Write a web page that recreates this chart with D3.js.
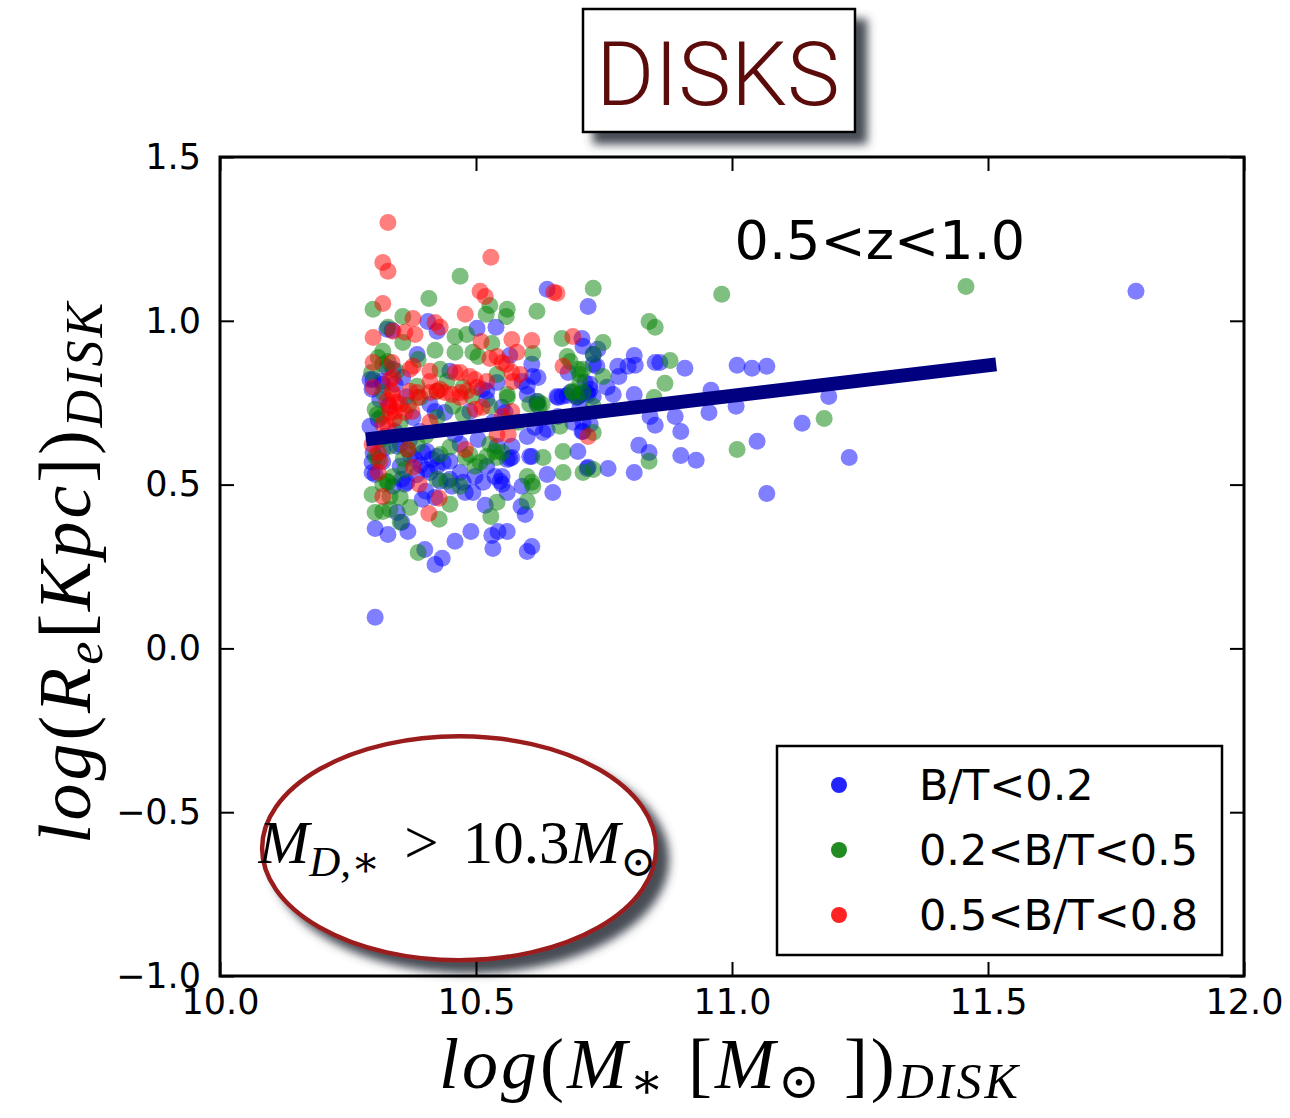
<!DOCTYPE html>
<html>
<head>
<meta charset="utf-8">
<script src="https://cdn.jsdelivr.net/npm/d3@7"></script>
<style>
  body { margin: 0; background: #fff; }
  .tick text { font-family: "DejaVu Sans", sans-serif; font-size: 35px; fill: #000; }
  .tick line { stroke: #000; stroke-width: 2; }
  .math { font-family: "Liberation Serif", "DejaVu Serif", serif; fill: #000; }
</style>
</head>
<body>
<div id="chart"></div>
<script>
// log stellar mass vs log effective radius, disks at 0.5<z<1.0
const xTicks = [10.0, 10.5, 11.0, 11.5, 12.0];
const yTicks = [-1.0, -0.5, 0.0, 0.5, 1.0, 1.5];
const classes = ["B/T<0.2", "0.2<B/T<0.5", "0.5<B/T<0.8"];

// [log M*, log Re] for B/T<0.2
const lowBT = [
  [10.639,1.096],[10.719,1.044],[10.406,0.998],[10.424,0.968],[10.502,0.977],[10.539,0.980],[10.336,0.971],
  [10.566,0.894],[10.609,0.867],[10.611,0.830],[10.621,0.827],[10.707,0.946],[10.709,0.922],[10.729,0.897],
  [10.738,0.913],[10.736,0.861],[10.326,0.858],[10.299,0.821],[10.316,0.815],[10.357,0.827],[10.385,0.897],
  [10.449,0.846],[10.541,0.812],[10.590,0.815],[10.600,0.775],[10.512,0.791],[10.521,0.760],[10.342,0.806],
  [10.658,0.769],[10.684,0.781],[10.699,0.769],[10.717,0.781],[10.729,0.769],[10.850,0.873],[10.859,0.873],
  [10.809,0.894],[10.811,0.864],[10.797,0.861],[10.777,0.861],[10.779,0.830],[10.908,0.855],[11.010,0.864],
  [11.039,0.855],[11.068,0.861],[10.756,0.797],[10.768,0.775],[10.809,0.775],[10.959,0.788],[11.189,0.769],
  [10.955,0.720],[11.008,0.739],[10.889,0.708],[10.840,0.708],[10.850,0.681],[10.900,0.662],[11.137,0.687],
  [11.049,0.632],[11.229,0.583],[11.068,0.473],[10.818,0.620],[10.838,0.598],[10.900,0.589],[10.930,0.574],
  [10.809,0.537],[10.758,0.549],[10.719,0.553],[10.699,0.601],[10.709,0.662],[10.729,0.867],[10.680,0.842],
  [10.723,0.806],[10.713,0.812],[10.719,0.775],[10.697,0.766],[10.668,0.769],[10.703,0.736],[10.689,0.690],
  [10.303,0.095],[10.400,0.302],[10.420,0.256],[10.434,0.275],[10.459,0.327],[10.490,0.357],[10.533,0.305],
  [10.531,0.345],[10.543,0.357],[10.561,0.357],[10.600,0.296],[10.609,0.311],[10.303,0.366],[10.328,0.348],
  [10.355,0.385],[10.367,0.357],[10.395,0.455],[10.365,0.507],[10.420,0.461],[10.479,0.476],[10.494,0.476],
  [10.514,0.507],[10.518,0.437],[10.561,0.476],[10.588,0.433],[10.596,0.409],[10.590,0.495],[10.551,0.501],
  [10.551,0.525],[10.570,0.583],[10.609,0.586],[10.639,0.531],[10.650,0.476],[10.717,0.549],[10.709,0.690],
  [10.723,0.684],[10.678,0.772],[10.703,0.775],[10.723,0.791],[10.660,0.766],[10.619,0.745],[10.631,0.659],
  [10.639,0.668],[10.605,0.586],[10.566,0.580],[10.561,0.577],[10.537,0.525],[10.547,0.510],[10.498,0.525],
  [10.521,0.556],[10.469,0.537],[10.475,0.507],[10.449,0.516],[10.453,0.495],[10.414,0.577],[10.424,0.556],
  [10.436,0.568],[10.449,0.571],[10.404,0.546],[10.410,0.537],[10.396,0.598],[10.404,0.601],[10.381,0.577],
  [10.355,0.516],[10.361,0.501],[10.338,0.495],[10.303,0.531],[10.299,0.598],[10.318,0.607],[10.352,0.623],
  [10.469,0.623],[10.541,0.617],[10.570,0.617],[10.424,0.586],[10.318,0.806],[10.309,0.699],[10.377,0.705],
  [10.410,0.745],[10.420,0.723],[10.439,0.720],[10.488,0.723],[10.521,0.785],[10.551,0.736],[10.557,0.720],
  [10.533,0.690],[10.600,0.800],[10.615,0.675],[10.600,0.647],[10.660,0.708],[10.707,0.662],[10.619,0.754],
  [11.789,1.090],[10.293,0.821],[10.297,0.791],[10.293,0.678],[10.297,0.568],[10.297,0.537],[10.326,0.974],
  [10.338,0.852],[10.346,0.617],[10.352,0.556],[10.346,0.415],[10.322,0.647],[10.342,0.662],[10.391,0.662],
  [10.371,0.638],[10.459,0.653],[10.504,0.638],[10.312,0.760],[10.330,0.742],[10.364,0.768],[10.392,0.560],
  [10.384,0.530],[10.430,0.510],[10.372,0.590],[10.318,0.570],[10.402,0.480]
];

// [log M*, log Re] for 0.2<B/T<0.5
const midBT = [
  [10.469,1.136],[10.729,1.099],[10.408,1.068],[10.299,1.035],[10.527,1.047],[10.520,1.020],[10.561,1.035],
  [10.559,1.013],[10.619,1.029],[10.357,1.013],[10.328,0.980],[10.357,0.934],[10.420,0.910],[10.459,0.952],
  [10.482,0.958],[10.459,0.904],[10.531,0.931],[10.494,0.904],[10.504,0.891],[10.611,0.900],[10.668,0.946],
  [10.678,0.891],[10.684,0.876],[10.318,0.907],[10.309,0.888],[10.318,0.867],[10.387,0.882],[10.430,0.852],
  [10.443,0.815],[10.541,0.836],[10.561,0.775],[10.475,0.797],[10.492,0.769],[10.424,0.785],[10.385,0.800],
  [10.318,0.781],[10.709,0.852],[10.838,0.998],[10.850,0.980],[10.748,0.934],[10.879,0.879],[10.869,0.809],
  [10.848,0.766],[11.180,0.702],[11.010,0.607],[10.838,0.571],[10.729,0.546],[10.709,0.537],[10.670,0.537],
  [10.670,0.601],[10.729,0.659],[10.729,0.897],[10.699,0.852],[10.703,0.836],[10.703,0.812],[10.748,0.830],
  [10.689,0.781],[10.729,0.739],[10.664,0.678],[10.980,1.081],[10.387,0.293],[10.352,0.385],[10.303,0.415],
  [10.318,0.418],[10.332,0.424],[10.428,0.394],[10.371,0.430],[10.297,0.470],[10.332,0.464],[10.352,0.461],
  [10.328,0.507],[10.449,0.440],[10.541,0.446],[10.529,0.403],[10.600,0.449],[10.600,0.525],[10.609,0.507],
  [10.611,0.495],[10.631,0.583],[10.688,0.785],[10.561,0.766],[10.605,0.745],[10.623,0.739],[10.498,0.556],
  [10.508,0.568],[10.469,0.495],[10.424,0.516],[10.443,0.510],[10.361,0.546],[10.338,0.525],[10.318,0.501],
  [10.326,0.510],[10.303,0.586],[10.367,0.607],[10.332,0.617],[10.385,0.623],[10.449,0.614],[10.479,0.583],
  [10.488,0.592],[10.527,0.623],[10.537,0.601],[10.551,0.598],[10.430,0.592],[10.521,0.586],[10.541,0.583],
  [10.303,0.730],[10.316,0.708],[10.352,0.690],[10.391,0.766],[10.424,0.705],[10.455,0.739],[10.475,0.714],
  [10.527,0.739],[10.561,0.693],[10.582,0.690],[10.621,0.754],[10.629,0.745],[10.697,0.769],[10.709,0.781],
  [11.457,1.105],[10.328,0.876],[10.307,0.714],[10.309,0.577],[10.313,0.638],[10.345,0.846],[10.368,0.742],
  [10.402,0.650],[10.296,0.842],[10.358,0.580]
];

// [log M*, log Re] for 0.5<B/T<0.8
const highBT = [
  [10.328,1.300],[10.318,1.178],[10.328,1.151],[10.529,1.194],[10.508,1.090],[10.518,1.074],[10.652,1.087],
  [10.658,1.084],[10.318,1.053],[10.479,1.020],[10.377,1.007],[10.420,0.995],[10.430,0.980],[10.338,0.968],
  [10.361,0.965],[10.381,0.958],[10.299,0.949],[10.510,0.937],[10.570,0.943],[10.609,0.940],[10.580,0.904],
  [10.527,0.885],[10.541,0.891],[10.551,0.873],[10.559,0.867],[10.689,0.952],[10.670,0.861],[10.299,0.873],
  [10.336,0.873],[10.299,0.797],[10.332,0.821],[10.371,0.852],[10.377,0.861],[10.410,0.846],[10.459,0.842],
  [10.469,0.842],[10.488,0.830],[10.498,0.821],[10.521,0.815],[10.570,0.842],[10.586,0.836],[10.572,0.815],
  [10.469,0.781],[10.482,0.785],[10.430,0.791],[10.410,0.815],[10.371,0.785],[10.385,0.781],[10.336,0.785],
  [10.719,0.647],[10.408,0.412],[10.318,0.464],[10.389,0.501],[10.428,0.458],[10.377,0.553],[10.309,0.537],
  [10.313,0.571],[10.367,0.607],[10.479,0.607],[10.338,0.775],[10.332,0.736],[10.342,0.723],[10.361,0.720],
  [10.375,0.723],[10.318,0.684],[10.387,0.766],[10.410,0.781],[10.424,0.785],[10.410,0.690],[10.439,0.781],
  [10.453,0.775],[10.469,0.766],[10.498,0.730],[10.512,0.736],[10.502,0.797],[10.551,0.708],[10.570,0.723],
  [10.541,0.653],[10.563,0.653],[10.338,0.827],[10.346,0.751],[10.332,0.720],[10.328,0.678],[10.309,0.598],
  [10.297,0.623],[10.352,0.745],[10.326,0.756],[10.340,0.700]
];

// linear fit of the sample
const fitLine = [[10.285, 0.638], [11.516, 0.867]];

const seriesColors = ["#0000ff", "#008000", "#ff0000"];
const legendColors = ["#2424ff", "#228b22", "#ff2424"];

const width = 1290, height = 1118;
const margin = {top: 157, right: 46, bottom: 142, left: 220};
const innerW = width - margin.left - margin.right;
const innerH = height - margin.top - margin.bottom;

const svg = d3.select("#chart")
  .append("svg")
  .attr("width", width)
  .attr("height", height)
  .attr("viewBox", `0 0 ${width} ${height}`);

const defs = svg.append("defs");
const shadow = defs.append("filter")
  .attr("id", "shadow")
  .attr("x", "-20%").attr("y", "-20%")
  .attr("width", "150%").attr("height", "150%");
shadow.append("feDropShadow")
  .attr("dx", 11).attr("dy", 11)
  .attr("stdDeviation", 5)
  .attr("flood-color", "#3d434b")
  .attr("flood-opacity", 0.95);

const xScale = d3.scaleLinear().domain([10.0, 12.0]).range([0, innerW]);
const yScale = d3.scaleLinear().domain([-1.0, 1.5]).range([innerH, 0]);

const inner = svg.append("g")
  .attr("transform", `translate(${margin.left},${margin.top})`);

// mass cut annotation
const note = inner.append("g");
note.append("ellipse")
  .attr("cx", xScale(10.467))
  .attr("cy", yScale(-0.61))
  .attr("rx", 197)
  .attr("ry", 112)
  .attr("fill", "#fff")
  .attr("stroke", "#9b1a1a")
  .attr("stroke-width", 4.5)
  .attr("filter", "url(#shadow)");

const noteText = note.append("text")
  .attr("class", "math")
  .attr("x", xScale(10.075))
  .attr("y", yScale(-0.655))
  .attr("font-size", 61);
noteText.append("tspan").attr("font-style", "italic").text("M");
noteText.append("tspan").attr("font-style", "italic").attr("font-size", 43).attr("dy", 13).text("D,∗");
noteText.append("tspan").attr("dy", -13).attr("dx", 24).text(">");
noteText.append("tspan").attr("dx", 24).text("10.3");
noteText.append("tspan").attr("font-style", "italic").text("M");
noteText.append("tspan").attr("font-size", 43).attr("dy", 13).text("⊙");

// scatter
const groups = [lowBT, midBT, highBT];
groups.forEach((pts, i) => {
  inner.append("g")
    .selectAll("circle")
    .data(pts)
    .join("circle")
    .attr("cx", d => xScale(d[0]))
    .attr("cy", d => yScale(d[1]))
    .attr("r", 8.5)
    .attr("fill", seriesColors[i])
    .attr("fill-opacity", 0.5);
});

inner.append("path")
  .datum(fitLine)
  .attr("d", d3.line().x(d => xScale(d[0])).y(d => yScale(d[1])))
  .attr("stroke", "#000080")
  .attr("stroke-width", 14)
  .attr("fill", "none");

// axes, ticks pointing inward on all four sides
const fmt = d3.format(".1f");
inner.append("g")
  .attr("transform", `translate(0,${innerH})`)
  .call(d3.axisBottom(xScale).tickValues(xTicks).tickFormat(fmt).tickSize(-14).tickPadding(13))
  .call(g => g.select(".domain").remove());
inner.append("g")
  .call(d3.axisTop(xScale).tickValues(xTicks).tickFormat("").tickSize(-14))
  .call(g => g.select(".domain").remove());
inner.append("g")
  .call(d3.axisLeft(yScale).tickValues(yTicks).tickFormat(fmt).tickSize(-14).tickPadding(19))
  .call(g => g.select(".domain").remove());
inner.append("g")
  .attr("transform", `translate(${innerW},0)`)
  .call(d3.axisRight(yScale).tickValues(yTicks).tickFormat("").tickSize(-14))
  .call(g => g.select(".domain").remove());

inner.append("rect")
  .attr("width", innerW)
  .attr("height", innerH)
  .attr("fill", "none")
  .attr("stroke", "#000")
  .attr("stroke-width", 3);

// redshift bin label
inner.append("text")
  .attr("x", xScale(11.005))
  .attr("y", yScale(1.19))
  .attr("font-family", "DejaVu Sans, sans-serif")
  .attr("font-size", 54)
  .text("0.5<z<1.0");

// legend
const legend = svg.append("g")
  .attr("transform", "translate(777,746)");
legend.append("rect")
  .attr("width", 445)
  .attr("height", 209)
  .attr("fill", "#fff")
  .attr("stroke", "#000")
  .attr("stroke-width", 2.5);
classes.forEach((c, i) => {
  const row = legend.append("g")
    .attr("transform", `translate(0,${39 + i * 65})`);
  row.append("circle")
    .attr("cx", 62)
    .attr("r", 8)
    .attr("fill", legendColors[i]);
  row.append("text")
    .attr("x", 142)
    .attr("y", 15)
    .attr("font-family", "DejaVu Sans, sans-serif")
    .attr("font-size", 43)
    .text(c);
});

// axis titles
const xTitle = svg.append("text")
  .attr("class", "math")
  .attr("x", 730)
  .attr("y", 1088)
  .attr("text-anchor", "middle")
  .attr("letter-spacing", 3)
  .attr("font-size", 72);
xTitle.append("tspan").attr("font-style", "italic").text("log");
xTitle.append("tspan").text("(");
xTitle.append("tspan").attr("font-style", "italic").text("M");
xTitle.append("tspan").attr("font-size", 50).attr("dy", 10).text("∗");
xTitle.append("tspan").attr("dy", -10).text(" [");
xTitle.append("tspan").attr("font-style", "italic").text("M");
xTitle.append("tspan").attr("font-size", 50).attr("dy", 10).text("⊙");
xTitle.append("tspan").attr("dy", -10).text(" ])");
xTitle.append("tspan").attr("font-style", "italic").attr("font-size", 50).attr("dy", 10).text("DISK");

const yTitle = svg.append("text")
  .attr("class", "math")
  .attr("transform", "translate(90,572) rotate(-90)")
  .attr("text-anchor", "middle")
  .attr("letter-spacing", 3)
  .attr("font-size", 74);
yTitle.append("tspan").attr("font-style", "italic").text("log");
yTitle.append("tspan").text("(");
yTitle.append("tspan").attr("font-style", "italic").text("R");
yTitle.append("tspan").attr("font-style", "italic").attr("font-size", 52).attr("dy", 12).text("e");
yTitle.append("tspan").attr("dy", -12).text("[");
yTitle.append("tspan").attr("font-style", "italic").text("Kpc");
yTitle.append("tspan").text("])");
yTitle.append("tspan").attr("font-style", "italic").attr("font-size", 52).attr("dy", 12).text("DISK");

// title box
const title = svg.append("g");
title.append("rect")
  .attr("x", 583)
  .attr("y", 9)
  .attr("width", 272)
  .attr("height", 123)
  .attr("fill", "#fff")
  .attr("stroke", "#000")
  .attr("stroke-width", 2.5)
  .attr("filter", "url(#shadow)");
title.append("text")
  .attr("x", 718)
  .attr("y", 105)
  .attr("text-anchor", "middle")
  .attr("font-family", "Roboto, 'Liberation Sans', sans-serif")
  .attr("font-weight", 300)
  .attr("font-size", 89)
  .attr("fill", "#5c0b0b")
  .text("DISKS");
</script>
</body>
</html>
